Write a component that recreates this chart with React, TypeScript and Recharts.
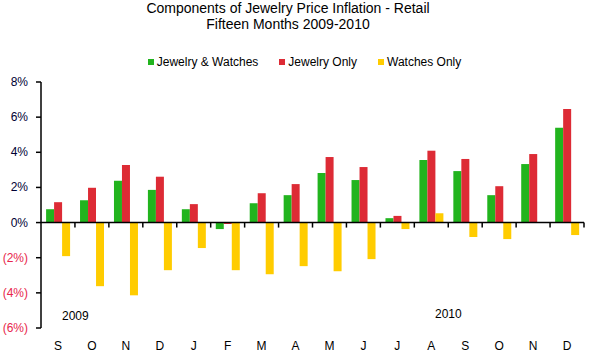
import React from 'react';
import { BarChart, Bar, XAxis, YAxis, Legend, ReferenceLine } from 'recharts';

// Month labels, Sep 2009 through Dec 2010
const months: string[] = ['S', 'O', 'N', 'D', 'J', 'F', 'M', 'A', 'M', 'J', 'J', 'A', 'S', 'O', 'N', 'D'];

// Percent change per month
const jewelryAndWatches: number[] = [0.76, 1.27, 2.38, 1.86, 0.76, -0.37, 1.1, 1.56, 2.82, 2.42, 0.25, 3.56, 2.93, 1.56, 3.33, 5.39];
const jewelryOnly: number[] = [1.16, 1.98, 3.27, 2.61, 1.05, -0.08, 1.67, 2.19, 3.73, 3.16, 0.38, 4.09, 3.62, 2.07, 3.9, 6.47];
const watchesOnly: number[] = [-1.91, -3.62, -4.14, -2.71, -1.45, -2.71, -2.94, -2.48, -2.77, -2.08, -0.37, 0.53, -0.82, -0.94, 0, -0.71];

const yTicks: number[] = [-6, -4, -2, 0, 2, 4, 6, 8];

const chartData = months.map((m, i) => ({
  key: `${m}-${i}`,
  month: m,
  both: jewelryAndWatches[i],
  jewelry: jewelryOnly[i],
  watches: watchesOnly[i],
}));

const colors = {
  both: '#22b41e',
  jewelry: '#dd2b35',
  watches: '#ffcc00',
};

const FONT = '"Liberation Sans", Arial, sans-serif';

const formatPct = (v: number): string => (v < 0 ? `(${Math.abs(v)}%)` : `${v}%`);

// y tick: negatives shown in red with parentheses
const YTick = (props: any) => {
  const { x, y, payload } = props;
  const v = payload.value as number;
  return (
    <text x={x} y={y} dy={4} textAnchor="end" fontSize={12} fontFamily={FONT} fill={v < 0 ? '#e8264c' : '#000033'}>
      {formatPct(v)}
    </text>
  );
};

// x tick: shows the month letter
const XTick = (props: any) => {
  const { x, y, payload } = props;
  const label = months[payload.index] ?? '';
  return (
    <text x={x} y={y} dy={10} textAnchor="middle" fontSize={12} fontFamily={FONT} fill="#000">
      {label}
    </text>
  );
};

// zero line with little downward ticks at each category boundary
const ZeroLine = (props: any) => {
  const { x1, y1, x2 } = props;
  const step = (x2 - x1) / months.length;
  return (
    <g>
      <line x1={x1} y1={y1} x2={x2} y2={y1} stroke="#000" strokeWidth={1.5} />
      {months.map((_, i) => (
        <line key={i} x1={x1 + step * (i + 1)} y1={y1} x2={x1 + step * (i + 1)} y2={y1 + 5} stroke="#000" strokeWidth={1.5} />
      ))}
    </g>
  );
};

const LegendContent = (props: any) => {
  const { payload } = props;
  return (
    <div style={{ display: 'flex', justifyContent: 'center', gap: 21, fontFamily: FONT, fontSize: 12, lineHeight: '14px', color: '#000' }}>
      {payload.map((entry: any) => (
        <div key={entry.value} style={{ display: 'flex', alignItems: 'center' }}>
          <div style={{ width: 6, height: 6, background: entry.color, marginRight: 3 }} />
          <span>{entry.value}</span>
        </div>
      ))}
    </div>
  );
};

export default function App() {
  return (
    <div style={{ position: 'absolute', left: 0, top: 0, width: 589, height: 359, background: '#fff', fontFamily: FONT }}>
      <div style={{ position: 'absolute', top: 0, left: 0, width: 576, textAlign: 'center', fontSize: 14, lineHeight: '16px', color: '#000' }}>
        Components of Jewelry Price Inflation - Retail
        <br />
        Fifteen Months 2009-2010
      </div>
      <BarChart
        width={589}
        height={359}
        data={chartData}
        margin={{ top: 68, right: 5, bottom: 0, left: 0 }}
        barCategoryGap="15%"
        barGap={0}
      >
        <XAxis
          dataKey="key"
          axisLine={false}
          tickLine={false}
          tickSize={0}
          tickMargin={12}
          height={31}
          tick={<XTick />}
          interval={0}
        />
        <YAxis
          domain={[-6, 8]}
          ticks={yTicks}
          width={41}
          tickSize={5}
          tickMargin={8}
          tick={<YTick />}
          axisLine={{ stroke: '#000', strokeWidth: 1.5 }}
          tickLine={{ stroke: '#000', strokeWidth: 1.5 }}
          interval={0}
        />
        <Legend verticalAlign="top" content={<LegendContent />} wrapperStyle={{ top: 55, left: 0, width: 589, marginLeft: 10 }} />
        <Bar dataKey="both" name="Jewelry & Watches" fill={colors.both} isAnimationActive={false} />
        <Bar dataKey="jewelry" name="Jewelry Only" fill={colors.jewelry} isAnimationActive={false} />
        <Bar dataKey="watches" name="Watches Only" fill={colors.watches} isAnimationActive={false} />
        <ReferenceLine y={0} shape={<ZeroLine />} />
      </BarChart>
      <div style={{ position: 'absolute', left: 62, top: 309, fontSize: 12, color: '#000' }}>2009</div>
      <div style={{ position: 'absolute', left: 435, top: 307, fontSize: 12, color: '#000' }}>2010</div>
    </div>
  );
}
